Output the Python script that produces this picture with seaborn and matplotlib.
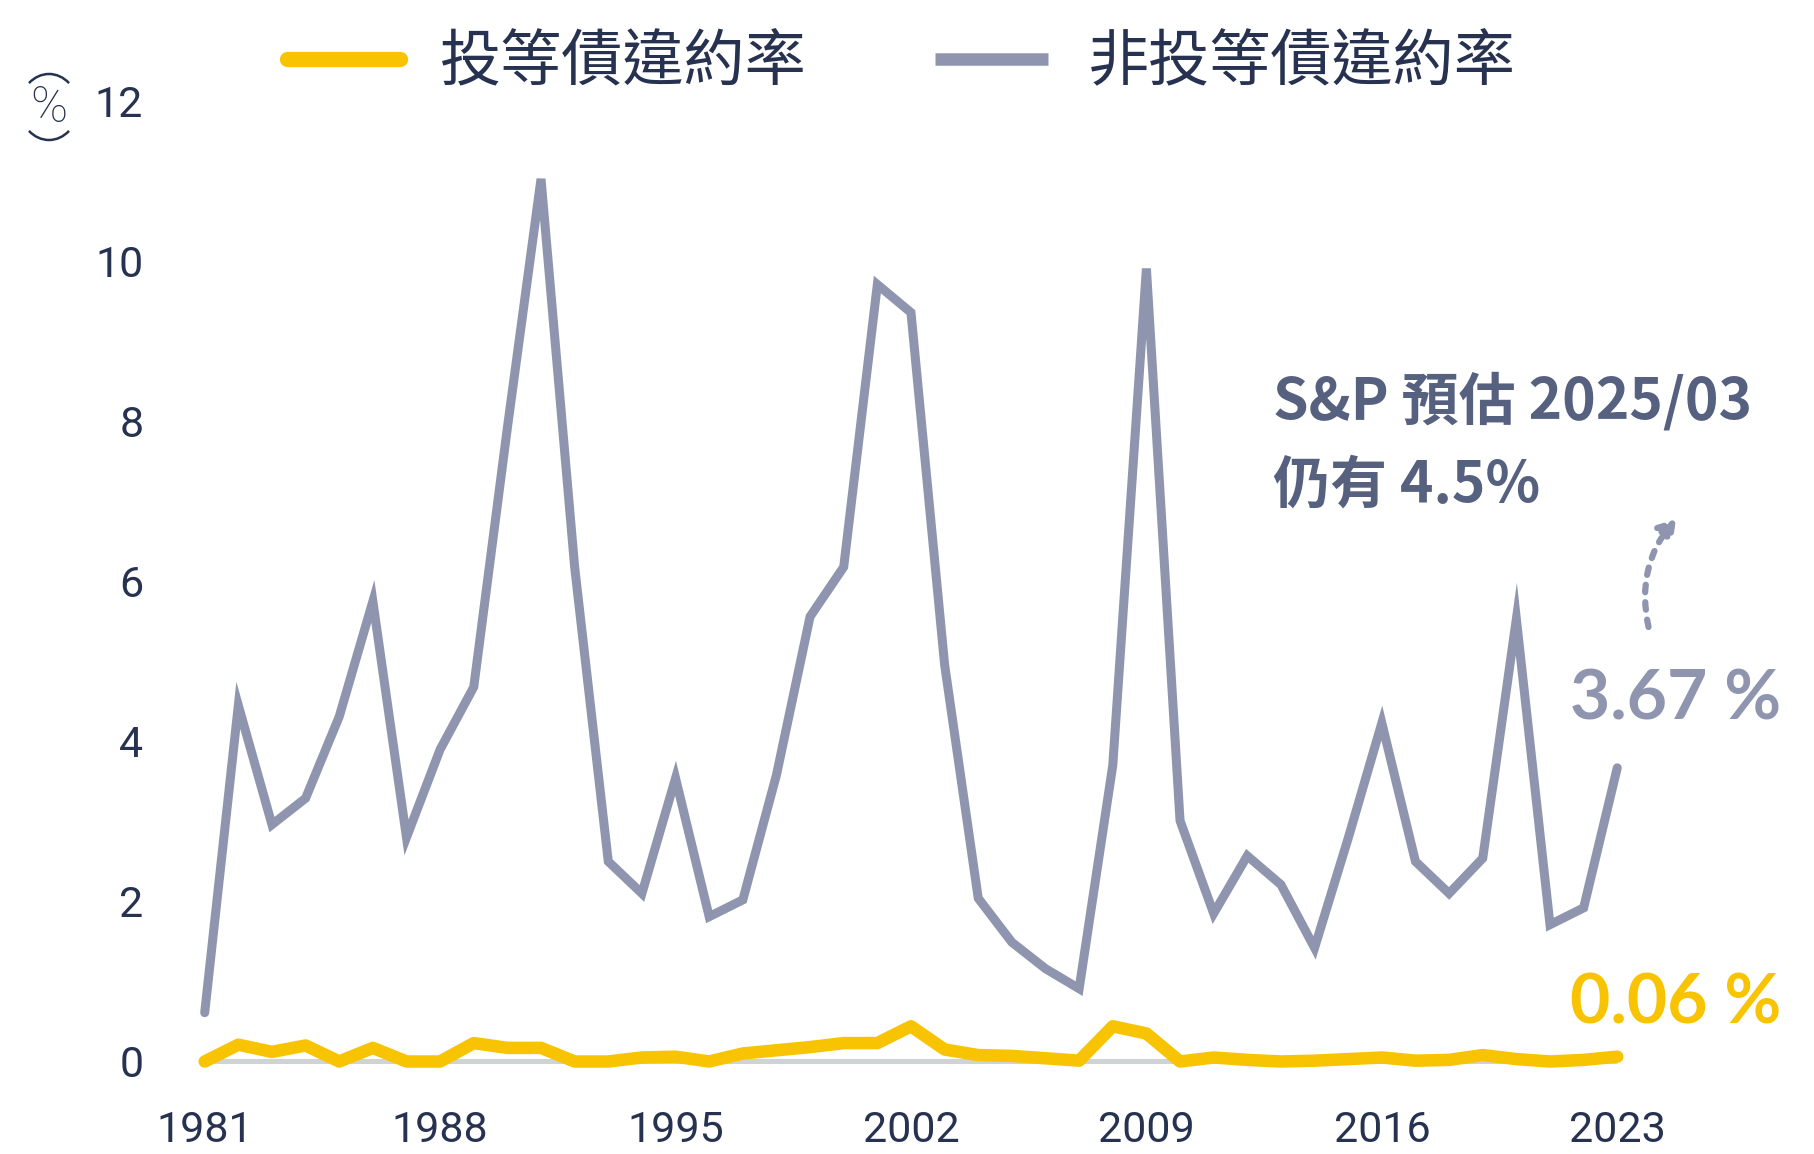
import matplotlib
matplotlib.use("Agg")
import matplotlib.pyplot as plt
from matplotlib.patches import Arc
from matplotlib.lines import Line2D
import seaborn as sns
import pandas as pd

# ---- data ----
years = list(range(1981, 2024))
high_yield = [0.61, 4.45, 2.96, 3.29, 4.31, 5.75, 2.80, 3.90, 4.68, 7.92,
              11.03, 6.18, 2.50, 2.10, 3.54, 1.81, 2.02, 3.58, 5.56, 6.18,
              9.71, 9.36, 4.96, 2.04, 1.49, 1.16, 0.91, 3.70, 9.91, 3.01,
              1.85, 2.57, 2.21, 1.42, 2.79, 4.23, 2.50, 2.10, 2.54, 5.53,
              1.71, 1.92, 3.67]
inv_grade = [0.00, 0.21, 0.12, 0.20, 0.00, 0.17, 0.00, 0.00, 0.23, 0.17,
             0.17, 0.00, 0.00, 0.05, 0.06, 0.00, 0.10, 0.14, 0.18, 0.23,
             0.23, 0.44, 0.15, 0.08, 0.07, 0.04, 0.01, 0.44, 0.35, 0.00,
             0.05, 0.02, 0.00, 0.01, 0.03, 0.05, 0.01, 0.02, 0.08, 0.03,
             0.00, 0.02, 0.06]
series_names = ["投等債違約率", "非投等債違約率"]
x_ticks = [1981, 1988, 1995, 2002, 2009, 2016, 2023]
y_ticks = [0, 2, 4, 6, 8, 10, 12]
note_lines = ["S&P 預估 2025/03", "仍有 4.5%"]
hy_label = "3.67 %"
ig_label = "0.06 %"

YELLOW = "#f8c300"
GRAY = "#8f95ae"
NAVY = "#26324f"
NOTE = "#56607f"

df = pd.DataFrame({
    "year": years * 2,
    "rate": inv_grade + high_yield,
    "series": [series_names[0]] * len(years) + [series_names[1]] * len(years),
})

sns.set_theme(style="white")
plt.rcParams["font.family"] = ["Noto Sans CJK TC", "DejaVu Sans"]

fig = plt.figure(figsize=(18.14, 11.54), dpi=100)
ax = fig.add_axes([0.0943, 0.0455, 0.8714, 0.9014])

# zero baseline
ax.hlines(0, years[0], years[-1], color="#cfd3d4", lw=3.6, zorder=1)

sns.lineplot(data=df[df.series == series_names[1]], x="year", y="rate",
             color=GRAY, lw=6.5, ax=ax, zorder=2, label=series_names[1],
             solid_capstyle="round", solid_joinstyle="miter")
sns.lineplot(data=df[df.series == series_names[0]], x="year", y="rate",
             color=YELLOW, lw=9, ax=ax, zorder=3, label=series_names[0],
             solid_capstyle="round", solid_joinstyle="round")

ax.set_xlim(1980, 2027)
ax.set_ylim(-0.5, 12.5)
ax.set_xticks(x_ticks)
ax.set_yticks(y_ticks)
ax.set_xticklabels([str(v) for v in x_ticks])
ax.set_yticklabels([str(v) for v in y_ticks])
ax.set_xlabel("")
ax.set_ylabel("")
for s in ax.spines.values():
    s.set_visible(False)
ax.grid(False)
ax.tick_params(axis="both", length=0, labelsize=31, labelcolor=NAVY)
ax.tick_params(axis="y", pad=20)
ax.tick_params(axis="x", pad=6)
for lab in ax.get_xticklabels() + ax.get_yticklabels():
    lab.set_fontfamily(["Roboto", "DejaVu Sans"])
    lab.set_fontweight("normal")

# legend
ax.get_legend().remove()
h_ig = Line2D([0], [0], color=YELLOW, lw=11, solid_capstyle="round")
h_hy = Line2D([0], [0], color=GRAY, lw=9, solid_capstyle="butt")
leg = fig.legend([h_ig, h_hy], series_names, loc="center",
                 bbox_to_anchor=(0.497, 0.945), ncol=2, frameon=False,
                 fontsize=44, handlelength=1.85, handletextpad=0.65,
                 columnspacing=2.1)
for t in leg.get_texts():
    t.set_color(NAVY)

# unit marker (%)
fig.text(0.027, 0.906, "%", fontsize=36, color=NAVY, ha="center", va="center",
         family=["Roboto", "DejaVu Sans"], fontweight="light")
fig.add_artist(Arc((0.49, 10.47), 0.58, 0.66, theta1=50, theta2=130,
                   transform=fig.dpi_scale_trans, color=NAVY, lw=1.8))
fig.add_artist(Arc((0.49, 10.47), 0.58, 0.66, theta1=230, theta2=310,
                   transform=fig.dpi_scale_trans, color=NAVY, lw=1.8))

# annotations
ax.text(2012.75, 8.24, note_lines[0], fontsize=41, fontweight="bold",
        color=NOTE, ha="left", va="center")
ax.text(2012.75, 7.2, note_lines[1], fontsize=41, fontweight="bold",
        color=NOTE, ha="left", va="center")
ax.text(2021.6, 4.52, hy_label, fontsize=50, fontweight="bold",
        color=GRAY, ha="left", va="center", family=["Lato", "DejaVu Sans"])
ax.text(2021.6, 0.72, ig_label, fontsize=50, fontweight="bold",
        color=YELLOW, ha="left", va="center", family=["Lato", "DejaVu Sans"])

ax.annotate("", xy=(2024.75, 6.78), xytext=(2023.93, 5.43),
            arrowprops=dict(arrowstyle="-|>,head_length=0.8,head_width=0.5",
                            color=GRAY, lw=4.5, linestyle=(0, (1.2, 1.6)),
                            connectionstyle="arc3,rad=-0.25",
                            shrinkA=0, shrinkB=0))

fig.savefig("out.png", dpi=100)
